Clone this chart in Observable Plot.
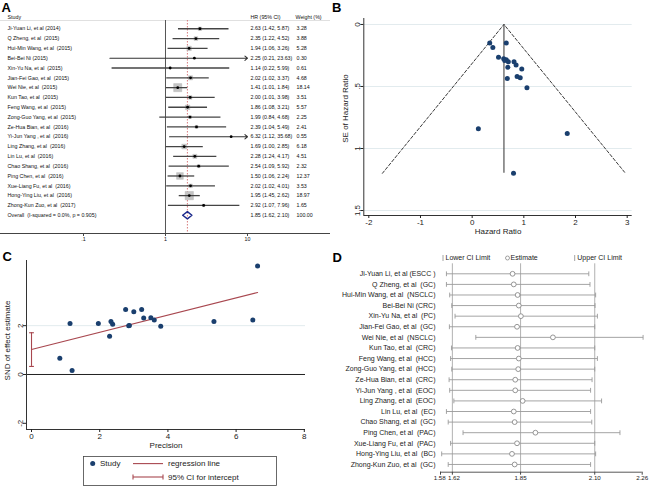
<!DOCTYPE html>
<html><head><meta charset="utf-8">
<script src="https://cdn.jsdelivr.net/npm/d3@7"></script>
<script src="https://cdn.jsdelivr.net/npm/@observablehq/plot@0.6"></script>
<style>
html,body{margin:0;padding:0;background:#fff;}
#root{position:relative;width:650px;height:487px;overflow:hidden;font-family:"Liberation Sans",Arial,Helvetica,sans-serif;}
.panel{position:absolute;}
.tag{position:absolute;font-weight:bold;font-size:13px;line-height:1;color:#000;}
</style></head><body><div id="root"></div>
<script>
const FONT = '"Liberation Sans", Arial, Helvetica, sans-serif';
const NAVY = "#1a3f6e";
const MAROON = "#a8474f";

// ---------------- Panel A: forest plot ----------------
const studyA = ["Ji-Yuan Li, et al (2014)","Q Zheng, et al  (2015)","Hui-Min Wang, et al  (2015)","Bei-Bei Ni (2015)","Xin-Yu Na, et al  (2015)","Jian-Fei Gao, et al  (2015)","Wei Nie, et al  (2015)","Kun Tao, et al  (2015)","Feng Wang, et al  (2015)","Zong-Guo Yang, et al  (2015)","Ze-Hua Bian, et al  (2016)","Yi-Jun Yang , et al  (2016)","Ling Zhang, et al  (2016)","Lin Lu, et al  (2016)","Chao Shang, et al  (2016)","Ping Chen, et al  (2016)","Xue-Liang Fu, et al  (2016)","Hong-Ying Liu, et al  (2016)","Zhong-Kun Zuo, et al  (2017)"];
const hrA = [2.63,2.35,1.94,2.25,1.14,2.02,1.41,2.00,1.86,1.99,2.39,6.32,1.69,2.28,2.54,1.50,2.02,1.95,2.92];
const loA = [1.42,1.22,1.06,0.21,0.22,1.02,1.01,1.01,1.08,0.84,1.04,1.12,1.00,1.24,1.09,1.06,1.02,1.45,1.07];
const hiA = [5.87,4.52,3.26,23.63,5.99,3.37,1.84,3.98,3.21,4.68,5.49,35.68,2.85,4.17,5.92,2.24,4.01,2.62,7.96];
const weightA = [3.28,3.88,5.28,0.30,0.61,4.68,18.14,3.51,5.57,2.25,2.41,0.55,6.18,4.51,2.32,12.37,3.53,18.97,1.65];
const overallLabel = "Overall  (I-squared = 0.0%, p = 0.905)";
const overallHR = 1.85, overallLo = 1.62, overallHi = 2.10, overallWeight = 100.00;
const headersA = ["Study", "HR (95% CI)", "Weight (%)"];
const forestTicks = [0.1, 1, 10];
const forestTickLabels = [".1", "1", "10"];
const arrowLimit = 10;

// ---------------- Panel B: funnel plot ----------------
const funnelLogHR = [0.34,0.66,0.40,0.51,0.61,0.66,0.70,0.63,0.81,0.85,0.69,0.96,0.87,0.93,0.68,1.06,0.12,1.84,0.80];
const funnelSE    = [0.15,0.15,0.185,0.264,0.277,0.285,0.30,0.29,0.30,0.327,0.345,0.36,0.42,0.43,0.435,0.51,0.84,0.88,1.20];
const pooledLogHR = 0.615, funnelSEmax = 1.2;
const funnelXTicks = [-2,-1,0,1,2,3];
const funnelYTicks = [0,0.5,1,1.5];
const funnelYTickLabels = ["0",".5","1","1.5"];
const funnelTitles = ["Hazard Ratio", "SE of Hazard Ratio"];

// ---------------- Panel C: Egger / Galbraith ----------------
const precisionC = [0.83,1.19,1.13,1.96,2.29,2.33,2.38,2.76,2.85,2.87,3.00,3.23,3.29,3.50,3.60,3.79,5.35,6.49,6.63];
const sndC       = [0.67,0.16,2.09,2.09,1.57,2.17,2.06,2.66,2.00,2.01,2.57,2.66,2.31,2.32,2.23,1.98,2.17,2.23,4.44];
const eggerIntercept = 1.02, eggerSlope = 0.353, eggerXmax = 6.63;
const eggerCI = [0.33, 1.71];
const eggerXTicks = [0,2,4,6,8];
const eggerYTicks = [-2,0,2];
const eggerTitles = ["Precision", "SND of effect estimate"];
const legendC = ["Study","regression line","95% CI for intercept"];

// ---------------- Panel D: sensitivity analysis ----------------
const studyD = ["Ji-Yuan Li, et al (ESCC )","Q Zheng, et al  (GC)","Hui-Min Wang, et al  (NSCLC)","Bei-Bei Ni (CRC)","Xin-Yu Na, et al  (PC)","Jian-Fei Gao, et al  (GC)","Wei Nie, et al  (NSCLC)","Kun Tao, et al  (CRC)","Feng Wang, et al  (HCC)","Zong-Guo Yang, et al  (HCC)","Ze-Hua Bian, et al  (CRC)","Yi-Jun Yang , et al  (EOC)","Ling Zhang, et al  (EOC)","Lin Lu, et al  (EC)","Chao Shang, et al  (GC)","Ping Chen, et al  (PAC)","Xue-Liang Fu, et al  (PAC)","Hong-Ying Liu, et al  (BC)","Zhong-Kun Zuo, et al  (GC)"];
const lowerD = [1.600,1.600,1.611,1.618,1.629,1.610,1.699,1.617,1.614,1.618,1.609,1.611,1.625,1.600,1.606,1.656,1.614,1.584,1.606];
const estD   = [1.823,1.827,1.840,1.844,1.851,1.838,1.959,1.840,1.844,1.842,1.832,1.832,1.857,1.827,1.830,1.900,1.838,1.821,1.830];
const upperD = [2.080,2.084,2.103,2.101,2.109,2.100,2.263,2.100,2.109,2.100,2.091,2.086,2.123,2.086,2.090,2.185,2.100,2.103,2.086];
const sensTicks = [1.58,1.62,1.85,2.10,2.26];
const sensRefLines = [1.62,1.85,2.10];
const legendD = ["Lower CI Limit","Estimate","Upper CI Limit"];

// symbols for caps
const vbar = {draw(ctx, size){const h=Math.sqrt(size/Math.PI); ctx.moveTo(0,-h); ctx.lineTo(0,h);}};
const hbar = {draw(ctx, size){const w=Math.sqrt(size/Math.PI); ctx.moveTo(-w,0); ctx.lineTo(w,0);}};

const root = document.getElementById("root");
function place(el, left, top, w, h){
  const d = document.createElement("div");
  d.className = "panel";
  d.style.left = left+"px"; d.style.top = top+"px";
  if (w) { d.style.width = w+"px"; d.style.height = h+"px"; }
  d.appendChild(el); root.appendChild(d); return d;
}
function tag(t, left, top){
  const d = document.createElement("div"); d.className="tag"; d.textContent=t;
  d.style.left=left+"px"; d.style.top=top+"px"; root.appendChild(d);
}

// ===== Panel A =====
const FS_A = 5.3;
const rowsA = studyA.map((s,i)=>({i, study:s, hr:hrA[i], lo:loA[i], hi:hiA[i], w:weightA[i]}));
const textRowsA = rowsA.map(d=>({i:d.i, study:d.study,
  ci:`${d.hr.toFixed(2)} (${d.lo.toFixed(2)}, ${d.hi.toFixed(2)})`, wt:d.w.toFixed(2)}));
const overallRow = studyA.length;
textRowsA.push({i:overallRow, study:overallLabel,
  ci:`${overallHR.toFixed(2)} (${overallLo.toFixed(2)}, ${overallHi.toFixed(2)})`, wt:overallWeight.toFixed(2)});
const diamond = [
  {x:overallLo, y:overallRow},{x:overallHR, y:overallRow-0.37},
  {x:overallHi, y:overallRow},{x:overallHR, y:overallRow+0.37},{x:overallLo, y:overallRow}];
const yTopA = -1.35, yBotA = 20.86, ySepA = -0.84;
const plotA = Plot.plot({
  width:330, height:245, marginLeft:0, marginRight:0, marginTop:15, marginBottom:12,
  x:{type:"log", domain:[0.00972, 102.9]},
  y:{domain:[yTopA, yBotA], reverse:true, axis:null},
  r:{type:"sqrt", domain:[0,19], range:[0,4.7]},
  style:{fontFamily:FONT, fontSize:FS_A+"px", background:"transparent", color:"#111"},
  marks:[
    Plot.ruleY([ySepA], {stroke:"#d8d8d8", strokeWidth:0.8}),
    Plot.ruleX([1], {y1:ySepA, y2:yBotA, stroke:"#555", strokeWidth:1}),
    Plot.ruleX([overallHR], {y1:ySepA, y2:yBotA, stroke:"#d77a7c", strokeWidth:1, strokeDasharray:"1.5,1.5"}),
    Plot.dot(rowsA, {x:"hr", y:"i", r:"w", symbol:"square", fill:"#c4c4c4", stroke:"#b0b0b0", strokeWidth:0.4}),
    Plot.link(rowsA.filter(d=>d.hi<=arrowLimit), {x1:"lo", x2:"hi", y1:"i", y2:"i", stroke:"#454545", strokeWidth:1.3}),
    Plot.arrow(rowsA.filter(d=>d.hi>arrowLimit), {x1:"lo", x2:()=>arrowLimit, y1:"i", y2:"i", stroke:"#333", strokeWidth:1.1, headLength:4.5, headAngle:80}),
    Plot.dot(rowsA, {x:"hr", y:"i", r:1.4, fill:"#000"}),
    Plot.line(diamond, {x:"x", y:"y", stroke:"#1c2a8c", strokeWidth:1.4}),
    Plot.text(textRowsA, {y:"i", text:"study", frameAnchor:"left", dx:7, textAnchor:"start", fontSize:FS_A}),
    Plot.text(textRowsA, {y:"i", text:"ci", frameAnchor:"left", dx:250, textAnchor:"start", fontSize:FS_A}),
    Plot.text(textRowsA, {y:"i", text:"wt", frameAnchor:"left", dx:296, textAnchor:"start", fontSize:FS_A}),
    Plot.text([headersA[0]], {frameAnchor:"top-left", dx:7, textAnchor:"start", fontSize:FS_A}),
    Plot.text([headersA[1]], {frameAnchor:"top-left", dx:250, textAnchor:"start", fontSize:FS_A}),
    Plot.text([headersA[2]], {frameAnchor:"top-left", dx:295, textAnchor:"start", fontSize:FS_A}),
    Plot.ruleY([yBotA], {stroke:"#444", strokeWidth:1}),
    Plot.axisX({ticks:forestTicks, tickFormat:d=>forestTickLabels[forestTicks.indexOf(d)], tickSize:3, tickPadding:1, fontSize:FS_A, label:null, stroke:"#444"})
  ]
});
place(plotA, 0, 0, 330, 245);

// ===== Panel B =====
const funnelPts = funnelLogHR.map((x,i)=>({x, se:funnelSE[i]}));
const funnelLines = [
  {x:pooledLogHR-1.96*funnelSEmax, se:funnelSEmax},
  {x:pooledLogHR, se:0},
  {x:pooledLogHR+1.96*funnelSEmax, se:funnelSEmax}];
const xDomB = [-2.097, 3.097], yDomB = [-0.048, 1.54];
const plotB = Plot.plot({
  width:320, height:245, marginLeft:33.3, marginRight:18.3, marginTop:18, marginBottom:30,
  x:{domain:xDomB}, y:{domain:yDomB, reverse:true},
  style:{fontFamily:FONT, fontSize:"8px", background:"transparent", color:"#222"},
  marks:[
    Plot.ruleY(funnelYTicks, {stroke:"#e2ebee", strokeWidth:1}),
    Plot.line(funnelLines, {x:"x", y:"se", stroke:"#222", strokeWidth:0.9, strokeDasharray:"3,2"}),
    Plot.ruleX([pooledLogHR], {y1:0, y2:funnelSEmax, stroke:"#444", strokeWidth:1.1}),
    Plot.dot(funnelPts, {x:"x", y:"se", r:2.5, fill:NAVY}),
    Plot.ruleX([xDomB[0]], {stroke:"#333", strokeWidth:1}),
    Plot.ruleY([yDomB[1]], {stroke:"#333", strokeWidth:1}),
    Plot.axisX({ticks:funnelXTicks, tickFormat:d=>String(d), tickSize:3, tickPadding:1, fontSize:8, label:null}),
    Plot.axisY({ticks:funnelYTicks, tickFormat:d=>funnelYTickLabels[funnelYTicks.indexOf(d)], tickRotate:-90,
      tickSize:3, tickPadding:1, fontSize:8, label:null}),
    Plot.text([funnelTitles[0]], {frameAnchor:"bottom", dy:18, fontSize:8, fontWeight:"normal", fill:"#222"}),
    Plot.text([funnelTitles[1]], {frameAnchor:"left", rotate:-90, textAnchor:"middle", dx:-18, dy:-8.5, fontSize:8, fontWeight:"normal", fill:"#222"})
  ]
});
place(plotB, 330, 0, 320, 245);

// ===== Panel C =====
const pointsC = precisionC.map((x,i)=>({x, y:sndC[i]}));
const regLine = [{x:0, y:eggerIntercept},{x:eggerXmax, y:eggerIntercept+eggerSlope*eggerXmax}];
const xDomC = [-0.147, 8.035], yDomC = [-2.254, 4.67];
const plotC = Plot.plot({
  width:330, height:237, marginLeft:26, marginRight:25, marginTop:10, marginBottom:58,
  x:{domain:xDomC}, y:{domain:yDomC},
  style:{fontFamily:FONT, fontSize:"8px", background:"transparent", color:"#222"},
  marks:[
    Plot.ruleY([2], {stroke:"#e2ebee", strokeWidth:1}),
    Plot.ruleY([0], {stroke:"#222", strokeWidth:1}),
    Plot.line(regLine, {x:"x", y:"y", stroke:MAROON, strokeWidth:1.1}),
    Plot.ruleX([0], {y1:eggerCI[0], y2:eggerCI[1], stroke:MAROON, strokeWidth:1.1}),
    Plot.dot(eggerCI.map(y=>({x:0,y})), {x:"x", y:"y", symbol:hbar, r:2.4, fill:"none", stroke:MAROON, strokeWidth:1.1}),
    Plot.dot(pointsC, {x:"x", y:"y", r:2.5, fill:NAVY}),
    Plot.ruleX([xDomC[0]], {stroke:"#333", strokeWidth:1}),
    Plot.ruleY([yDomC[0]], {stroke:"#333", strokeWidth:1}),
    Plot.axisX({ticks:eggerXTicks, tickFormat:d=>String(d), tickSize:3, tickPadding:1, fontSize:8, label:null}),
    Plot.axisY({ticks:eggerYTicks, tickFormat:d=>String(d), tickRotate:-90, tickSize:3, tickPadding:1, fontSize:8, label:null}),
    Plot.text([eggerTitles[0]], {frameAnchor:"bottom", dy:18, fontSize:8, fontWeight:"normal", fill:"#222"}),
    Plot.text([eggerTitles[1]], {frameAnchor:"left", rotate:-90, textAnchor:"middle", dx:-19, dy:-4.5, fontSize:8, fontWeight:"normal", fill:"#222"})
  ]
});
place(plotC, 0, 250, 330, 237);

// legend for C (below the chart)
(function(){
  const ns="http://www.w3.org/2000/svg";
  const s=document.createElementNS(ns,"svg");
  s.setAttribute("width",195); s.setAttribute("height",31);
  s.style.overflow="visible";
  s.innerHTML = `
   <rect x="0.5" y="0.5" width="193" height="29" fill="#fff" stroke="#444" stroke-width="0.8"/>
   <circle cx="9.7" cy="7.6" r="2.5" fill="${NAVY}"/>
   <text x="17" y="7.6" dy="0.35em" font-size="8" font-family='${FONT}' fill="#222">${legendC[0]}</text>
   <line x1="50" x2="80" y1="7.6" y2="7.6" stroke="${MAROON}" stroke-width="1.1"/>
   <text x="85" y="7.6" dy="0.35em" font-size="8" font-family='${FONT}' fill="#222">${legendC[1]}</text>
   <line x1="50" x2="80" y1="21" y2="21" stroke="${MAROON}" stroke-width="1.1"/>
   <line x1="50" x2="50" y1="18.6" y2="23.4" stroke="${MAROON}" stroke-width="1.1"/>
   <line x1="80" x2="80" y1="18.6" y2="23.4" stroke="${MAROON}" stroke-width="1.1"/>
   <text x="85" y="21" dy="0.35em" font-size="8" font-family='${FONT}' fill="#222">${legendC[2]}</text>`;
  place(s, 83, 455.5);
})();

// ===== Panel D =====
const rowsD = studyD.map((s,i)=>({i, study:s, lo:lowerD[i], est:estD[i], hi:upperD[i]}));
const capsD = rowsD.flatMap(d=>[{i:d.i, x:d.lo},{i:d.i, x:d.hi}]);
const xDomD = [1.58, 2.26], yDomD = [-0.944, 18.73];
const GREY = "#9a9a9a";
const fmtD = d=>d.toFixed(2);
const plotD = Plot.plot({
  width:320, height:237, marginLeft:110, marginRight:8.3, marginTop:13.3, marginBottom:15.3,
  x:{domain:xDomD}, y:{domain:yDomD, reverse:true, axis:null},
  style:{fontFamily:FONT, fontSize:"7px", background:"transparent", color:"#222"},
  marks:[
    Plot.ruleX(sensRefLines, {stroke:"#a8a8a8", strokeWidth:0.9}),
    Plot.link(rowsD, {x1:"lo", x2:"hi", y1:"i", y2:"i", stroke:GREY, strokeWidth:0.9}),
    Plot.dot(capsD, {x:"x", y:"i", symbol:vbar, r:2.4, fill:"none", stroke:GREY, strokeWidth:0.9}),
    Plot.dot(rowsD, {x:"est", y:"i", r:2.4, fill:"#fff", stroke:"#8a8a8a", strokeWidth:0.9}),
    Plot.text(rowsD, {y:"i", text:"study", frameAnchor:"left", dx:-5, textAnchor:"end", fontSize:7, fill:"#222"}),
    Plot.ruleY([yDomD[1]], {stroke:"#444", strokeWidth:0.9}),
    Plot.axisX({ticks:sensTicks, tickFormat:()=>"", tickSize:3, label:null, stroke:"#444"}),
    Plot.axisX({ticks:sensTicks.slice(0,1), tickFormat:fmtD, tickSize:0, tickPadding:3, fontSize:6.2, label:null, dx:-0.8}),
    Plot.axisX({ticks:sensTicks.slice(1,2), tickFormat:fmtD, tickSize:0, tickPadding:3, fontSize:6.2, label:null, dx:1.6}),
    Plot.axisX({ticks:sensTicks.slice(2), tickFormat:fmtD, tickSize:0, tickPadding:3, fontSize:6.2, label:null})
  ]
});
place(plotD, 330, 250, 320, 237);

// legend for D (above the chart)
(function(){
  const ns="http://www.w3.org/2000/svg";
  const s=document.createElementNS(ns,"svg");
  s.setAttribute("width",200); s.setAttribute("height",14);
  s.style.overflow="visible";
  s.innerHTML = `
   <line x1="2" x2="2" y1="4" y2="10" stroke="${GREY}" stroke-width="0.9"/>
   <text x="4.5" y="7" dy="0.35em" font-size="7" font-family='${FONT}' fill="#222">${legendD[0]}</text>
   <circle cx="66.5" cy="7" r="2" fill="#fff" stroke="#8a8a8a" stroke-width="0.8"/>
   <text x="69.5" y="7" dy="0.35em" font-size="7" font-family='${FONT}' fill="#222">${legendD[1]}</text>
   <line x1="133.7" x2="133.7" y1="4" y2="10" stroke="${GREY}" stroke-width="0.9"/>
   <text x="136.3" y="7" dy="0.35em" font-size="7" font-family='${FONT}' fill="#222">${legendD[2]}</text>`;
  place(s, 441.3, 251.3);
})();

tag("A", 1.5, 1.3);
tag("B", 332, 0.5);
tag("C", 2.5, 250.3);
tag("D", 332.5, 251.3);
</script></body></html>
